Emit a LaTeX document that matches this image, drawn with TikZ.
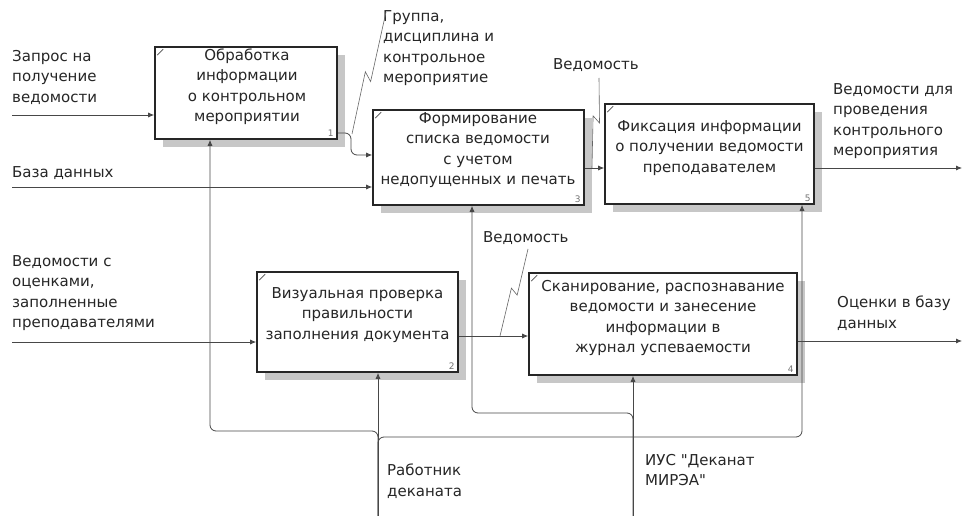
\documentclass[tikz,border=0pt]{standalone}
\usepackage{fontspec}
\setmainfont{DejaVu Sans}[Ligatures=TeXOff]
\usetikzlibrary{arrows.meta,calc,shadows}
\begin{document}
\begin{tikzpicture}[x=1pt,y=-1pt,
  every node/.style={font=\fontsize{15}{20.5}\selectfont, text=black!85, inner sep=0pt},
  lbl/.style={anchor=west, align=left},
  btxt/.style={align=center},
  box/.style={draw=black!85, line width=1.6pt, fill=white,
    drop shadow={shadow xshift=8pt, shadow yshift=-8pt, fill=black!22, opacity=1}},
  num/.style={font=\fontsize{9}{10}\selectfont, text=black!55, anchor=south east},
  arr/.style={draw=black!72, line width=0.8pt, -{Latex[length=6pt,width=5pt]}},
  lead/.style={draw=black!60, line width=0.6pt},
  cornermark/.style={draw=black!70, line width=0.6pt}
]
\fill[white] (0,0) rectangle (967,516);
\useasboundingbox (0,0) rectangle (967,516);

% boxes
\node[box, minimum width=182pt, minimum height=92pt] (b1) at (246,93) {};
\node[box, minimum width=211pt, minimum height=95pt] (b3) at (478.5,157.5) {};
\node[box, minimum width=209pt, minimum height=100pt] (b5) at (709.5,154) {};
\node[box, minimum width=201pt, minimum height=100pt] (b2) at (357.5,322) {};
\node[box, minimum width=268pt, minimum height=102pt] (b4) at (663,324) {};

% box texts
\node[btxt] (t1) at (247,86.5) {Обработка\\информации\\о контрольном\\мероприятии};
\node[btxt] (t3) at (478,150) {Формирование\\списка ведомости\\с учетом\\недопущенных и печать};
\node[btxt] (t5) at (709.5,148) {Фиксация информации\\о получении ведомости\\преподавателем};
\node[btxt] (t2) at (357.5,315) {Визуальная проверка\\правильности\\заполнения документа};
\node[btxt] (t4) at (663,318) {Сканирование, распознавание\\ведомости и занесение\\информации в\\журнал успеваемости};

% box numbers
\node[num] (n1) at ($(b1.south east)+(-4,-3)$) {1};
\node[num] (n3) at ($(b3.south east)+(-4,-3)$) {3};
\node[num] (n5) at ($(b5.south east)+(-4,-3)$) {5};
\node[num] (n2) at ($(b2.south east)+(-4,-3)$) {2};
\node[num] (n4) at ($(b4.south east)+(-4,-3)$) {4};

% corner marks
\foreach \b in {b1,b3,b5,b2,b4}{
  \draw[cornermark] ($(\b.north west)+(3,9)$) -- ($(\b.north west)+(9,3)$);
}

% labels
\node[lbl] (l1) at (12,77) {Запрос на\\получение\\ведомости};
\node[lbl] (l2) at (12,173) {База данных};
\node[lbl] (l3) at (12,293) {Ведомости с\\оценками,\\заполненные\\преподавателями};
\node[lbl] (l4) at (383,48) {Группа,\\дисциплина и\\контрольное\\мероприятие};
\node[lbl] (l5) at (553,65) {Ведомость};
\node[lbl] (l6) at (833,121) {Ведомости для\\проведения\\контрольного\\мероприятия};
\node[lbl] (l7) at (483,238) {Ведомость};
\node[lbl] (l8) at (837,313) {Оценки в базу\\данных};
\node[lbl] (l9) at (387,481) {Работник\\деканата};
\node[lbl] (l10) at (645,470) {ИУС "Деканат\\МИРЭА"};

% inputs
\coordinate (i1) at (12,115);
\draw[arr] (i1) -- (i1 -| b1.west);
\coordinate (i2) at (12,187);
\draw[arr] (i2) -- (i2 -| b3.west);
\coordinate (i3) at (12,342);
\draw[arr] (i3) -- (i3 -| b2.west);

% b1 -> b3
\coordinate (c1a) at (351,133);
\coordinate (c1b) at (351,155);
\draw[arr, rounded corners=6pt] (b1.east |- c1a) -- (c1a) -- (c1b) -- (c1b -| b3.west);

% b3 -> b5
\coordinate (y35) at (0,168);
\draw[arr] (b3.east |- y35) -- (b5.west |- y35);

% b5 -> out
\coordinate (o5) at (962,168);
\draw[arr] (b5.east |- o5) -- (o5);

% b2 -> b4
\coordinate (y24) at (0,336);
\draw[arr] (b2.east |- y24) -- (b4.west |- y24);

% b4 -> out
\coordinate (o4) at (962,341);
\draw[arr] (b4.east |- o4) -- (o4);

% mechanisms
\coordinate (m1) at (378,516);
\draw[arr] (m1) -- (m1 |- b2.south);
\coordinate (j1) at (210,431);
\draw[arr, rounded corners=6pt] (m1) -- (m1 |- j1) -- (j1) -- (j1 |- b1.south);
\coordinate (j2) at (802,437);
\draw[arr, rounded corners=6pt] (m1) -- (m1 |- j2) -- (j2) -- (j2 |- b5.south);
\coordinate (m2) at (633,516);
\draw[arr] (m2) -- (m2 |- b4.south);
\coordinate (j3) at (472,413);
\draw[arr, rounded corners=6pt] (m2) -- (m2 |- j3) -- (j3) -- (j3 |- b3.south);

% squiggle leaders
\coordinate (s1a) at (386,12); \coordinate (s1b) at (352,134);
\draw[lead] (s1a) -- ($(s1a)!0.57!(s1b)+(4,0)$) -- ($(s1a)!0.49!(s1b)+(-4,0)$) -- (s1b);
\coordinate (s2a) at (599,78); \coordinate (s2b) at (592,168);
\draw[lead] (s2a) -- ($(s2a)!0.50!(s2b)+(4,0)$) -- ($(s2a)!0.42!(s2b)+(-3,0)$) -- (s2b);
\coordinate (s3a) at (528,249); \coordinate (s3b) at (500,336);
\draw[lead] (s3a) -- ($(s3a)!0.53!(s3b)+(4,0)$) -- ($(s3a)!0.45!(s3b)+(-4,0)$) -- (s3b);
\end{tikzpicture}
\end{document}
